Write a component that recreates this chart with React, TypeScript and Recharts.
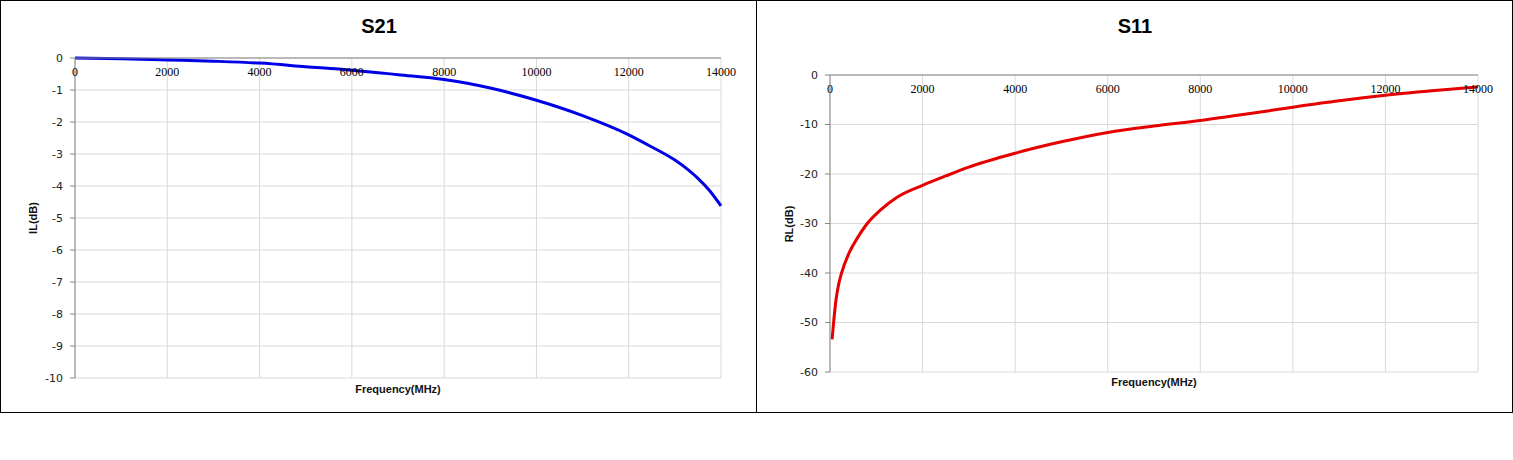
import React from 'react'
import { LineChart, Line, XAxis, YAxis, CartesianGrid } from 'recharts'

// S21 insertion loss
const s21Freq = [0, 1000, 2000, 3000, 4000, 5000, 6000, 7000, 8000, 8500, 9000, 10000, 11000, 12000, 12500, 13000, 13250, 13500, 13750, 14000]
const s21IL = [0, -0.02, -0.06, -0.1, -0.16, -0.27, -0.38, -0.52, -0.67, -0.79, -0.94, -1.32, -1.8, -2.4, -2.78, -3.19, -3.45, -3.76, -4.14, -4.62]

// S11 return loss
const s11Freq = [45, 80, 130, 180, 250, 420, 600, 780, 1100, 1450, 2000, 2500, 3000, 4000, 5000, 6000, 7000, 8000, 9000, 10000, 11000, 12000, 13000, 14000]
const s11RL = [-53.4, -49.8, -45.4, -42.6, -40, -35.8, -32.8, -30.3, -27.2, -24.7, -22.3, -20.4, -18.6, -15.8, -13.5, -11.6, -10.3, -9.2, -7.9, -6.5, -5.2, -4.1, -3.2, -2.4]

const freqTicks = [0, 2000, 4000, 6000, 8000, 10000, 12000, 14000]
const ilTicks = [0, -1, -2, -3, -4, -5, -6, -7, -8, -9, -10]
const rlTicks = [0, -10, -20, -30, -40, -50, -60]

const s21Data = s21Freq.map((f, i) => ({ f, v: s21IL[i] }))
const s11Data = s11Freq.map((f, i) => ({ f, v: s11RL[i] }))

const AXIS = '#868686'
const GRID = '#d9d9d9'

function FreqTick(props: any) {
  return (
    <text x={props.x} y={props.y + 18} textAnchor="middle" fontFamily="Liberation Serif" fontSize={12} fill="#000">
      {props.payload.value}
    </text>
  )
}

type PanelProps = {
  left: number
  title: string
  yLabel: string
  data: { f: number; v: number }[]
  yTicks: number[]
  yMin: number
  color: string
  margin: { top: number; right: number; bottom: number; left: number }
  labelY: number
}

function Panel({ left, title, yLabel, data, yTicks, yMin, color, margin, labelY }: PanelProps) {
  const plotLeft = margin.left + 50
  const plotRight = 756 - margin.right
  return (
    <div style={{ position: 'absolute', left, top: 0, width: 757, height: 413, border: '1px solid #000', boxSizing: 'border-box', background: '#fff' }}>
      <div style={{ position: 'absolute', left: 0, top: 0 }}>
        <LineChart width={756} height={412} data={data} margin={margin}>
          <CartesianGrid stroke={GRID} vertical horizontal />
          <XAxis
            dataKey="f"
            type="number"
            orientation="top"
            domain={[0, 14000]}
            ticks={freqTicks}
            height={30}
            tickSize={0}
            tickMargin={0}
            tick={<FreqTick />}
            stroke={AXIS}
            interval={0}
          />
          <YAxis
            type="number"
            domain={[yMin, 0]}
            ticks={yTicks}
            width={50}
            tickSize={5}
            tickMargin={7}
            stroke={AXIS}
            interval={0}
            tick={{ fontFamily: 'DejaVu Sans', fontSize: 11, fill: '#222' }}
          />
          <Line dataKey="v" type="monotone" stroke={color} strokeWidth={3} dot={false} isAnimationActive={false} />
        </LineChart>
      </div>
      <div style={{ position: 'absolute', left: 0, width: 756, top: 14, textAlign: 'center', fontFamily: 'Liberation Sans', fontWeight: 'bold', fontSize: 20, color: '#000' }}>
        {title}
      </div>
      <div style={{ position: 'absolute', left: (plotLeft + plotRight) / 2, top: labelY, transform: 'translateX(-50%)', fontFamily: 'Liberation Sans', fontWeight: 'bold', fontSize: 11, color: '#111', whiteSpace: 'nowrap' }}>
        Frequency(MHz)
      </div>
      <div style={{ position: 'absolute', left: 32, top: (margin.top + 30 + 412 - margin.bottom) / 2, transform: 'translate(-50%, -50%) rotate(-90deg)', fontFamily: 'Liberation Sans', fontWeight: 'bold', fontSize: 11, color: '#111', whiteSpace: 'nowrap' }}>
        {yLabel}
      </div>
    </div>
  )
}

export default function App() {
  return (
    <div style={{ position: 'absolute', left: 0, top: 0, width: 1513, height: 460, background: '#fff' }}>
      <Panel
        left={0}
        title="S21"
        yLabel="IL(dB)"
        data={s21Data}
        yTicks={ilTicks}
        yMin={-10}
        color="#0000e6"
        margin={{ top: 27, right: 36, bottom: 35, left: 24 }}
        labelY={382}
      />
      <Panel
        left={756}
        title="S11"
        yLabel="RL(dB)"
        data={s11Data}
        yTicks={rlTicks}
        yMin={-60}
        color="#e60000"
        margin={{ top: 44, right: 35, bottom: 41, left: 23 }}
        labelY={375}
      />
    </div>
  )
}
